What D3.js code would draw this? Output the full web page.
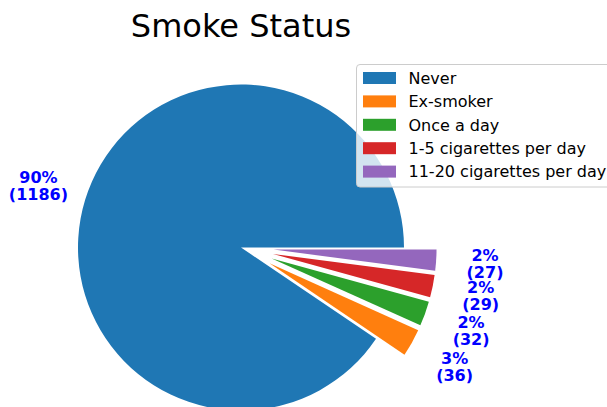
<html>
<head>
<meta charset="UTF-8">
<title>Smoke Status</title>
<style>
body { margin: 0; background: white; }
text { font-family: "DejaVu Sans", sans-serif; }
.pct { font-weight: bold; fill: blue; font-size: 16px; }
.leg { font-size: 16px; fill: black; }
</style>
<script src="https://d3js.org/d3.v7.min.js"></script>
</head>
<body>
<div id="chart"></div>
<script>
// data
var categories = ["Never", "Ex-smoker", "Once a day", "1-5 cigarettes per day", "11-20 cigarettes per day"];
var counts = [1186, 36, 32, 29, 27];
var pctLabels = ["90%", "3%", "2%", "2%", "2%"];
var explode = [0, 0.2, 0.2, 0.2, 0.2];
var colors = ["#1f77b4", "#ff7f0e", "#2ca02c", "#d62728", "#9467bd"];

var width = 607, height = 407;
var cx = 241, cy = 247.5, radius = 163;
var pctDistance = 1.3;

var svg = d3.select("#chart").append("svg")
    .attr("width", width)
    .attr("height", height);

svg.append("text")
    .attr("x", 241).attr("y", 37)
    .attr("text-anchor", "middle")
    .style("font-size", "32px")
    .text("Smoke Status");

// counterclockwise from 3 o'clock, like matplotlib
var pie = d3.pie().sort(null)
    .startAngle(Math.PI / 2)
    .endAngle(Math.PI / 2 - 2 * Math.PI);

var arc = d3.arc().innerRadius(0).outerRadius(radius);
var arcs = pie(counts);

var g = svg.append("g").attr("transform", "translate(" + cx + "," + cy + ")");

var slice = g.selectAll(".slice")
    .data(arcs)
    .enter()
    .append("g")
    .attr("class", "slice")
    .attr("transform", function(d, i) {
        var m = (d.startAngle + d.endAngle) / 2;
        var off = explode[i] * radius;
        return "translate(" + (off * Math.sin(m)) + "," + (-off * Math.cos(m)) + ")";
    });

slice.append("path")
    .attr("d", arc)
    .attr("fill", function(d, i) { return colors[i]; });

var lineGap = 17;
var lbl = slice.append("text")
    .attr("class", "pct")
    .attr("text-anchor", "middle")
    .attr("transform", function(d) {
        var m = (d.startAngle + d.endAngle) / 2;
        var r = pctDistance * radius;
        return "translate(" + (r * Math.sin(m)) + "," + (-r * Math.cos(m)) + ")";
    });
lbl.append("tspan")
    .attr("x", 0).attr("y", -2.7)
    .text(function(d, i) { return pctLabels[i]; });
lbl.append("tspan")
    .attr("x", 0).attr("y", -2.7 + lineGap)
    .text(function(d, i) { return "(" + counts[i] + ")"; });

// legend
var legend = svg.append("g").attr("transform", "translate(356.5,64.5)");
legend.append("rect")
    .attr("width", 262).attr("height", 122.5)
    .attr("rx", 3.5)
    .attr("fill", "white").attr("fill-opacity", 0.8)
    .attr("stroke", "#cccccc").attr("stroke-width", 1);

var rows = legend.selectAll(".row")
    .data(categories)
    .enter()
    .append("g")
    .attr("class", "row")
    .attr("transform", function(d, i) { return "translate(0," + (13.5 + i * 23.4) + ")"; });

rows.append("rect")
    .attr("x", 6.5).attr("y", -6)
    .attr("width", 33).attr("height", 12)
    .attr("fill", function(d, i) { return colors[i]; });

rows.append("text")
    .attr("class", "leg")
    .attr("x", 52).attr("y", 5.8)
    .text(function(d) { return d; });
</script>
</body>
</html>
